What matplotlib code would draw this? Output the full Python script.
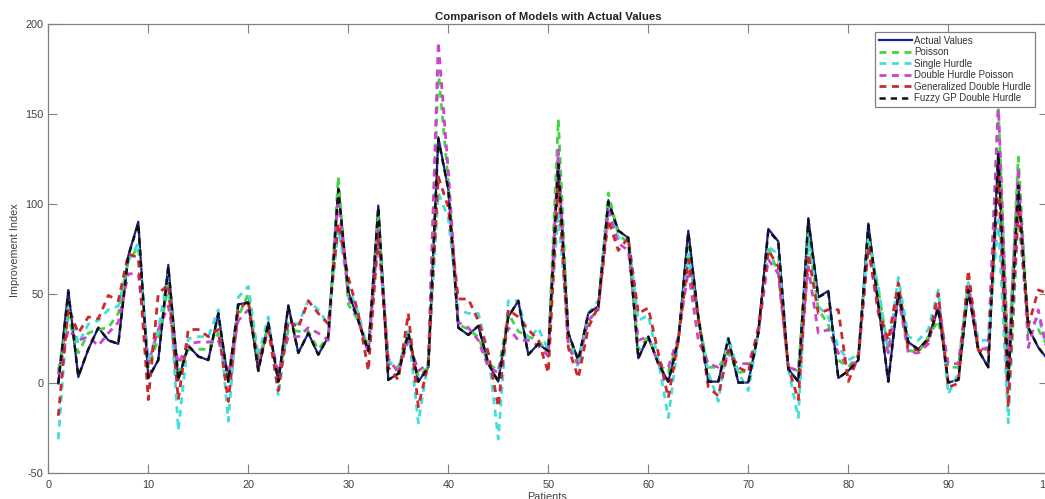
import matplotlib
matplotlib.use("Agg")
import matplotlib.pyplot as plt

plt.rcParams['font.family'] = ['Liberation Sans', 'DejaVu Sans']
plt.rcParams['axes.unicode_minus'] = False

patients = list(range(1, 101))

actual = [0, 52, 3.5, 19, 31, 24, 22, 71, 90, 3,
          13, 66, 2, 21, 15, 13, 39, 1, 44, 45,
          7, 34, 1, 43.5, 17, 28, 16, 26, 109, 51,
          35, 18, 99, 2, 5.5, 28, 1, 9, 137, 108,
          31, 27, 32, 11, 1, 37, 46, 16, 22, 18,
          123, 28, 13, 39, 43, 102, 85, 81, 14, 26,
          11, 1, 24, 85, 37, 1, 1, 25, 0.5, 0.5,
          28, 86, 79, 8, 1, 92, 48, 51.5, 3, 7,
          13, 89, 44, 1, 50, 23, 19, 25, 42, 0.5,
          2, 52, 18.5, 9, 129, 1, 111, 31, 20, 13]

poisson = [7, 37, 17, 28, 30, 31, 39, 68, 76, 9,
           25, 54, 6, 19, 19, 19, 28, 4, 37, 50,
           13, 31, 4, 30, 29, 29, 19, 26, 115, 44,
           35, 20, 93, 11, 9, 28, 4, 9, 174, 112,
           33, 30, 26, 11, 7, 39, 29, 26, 24, 17,
           147, 26, 13, 35, 41, 106, 83, 78, 18.5, 26,
           11, 6, 24, 76, 35, 9, 9, 17, 6, 7,
           28, 76, 61, 9, 7, 83, 41, 33, 13, 9,
           16, 81, 52, 18.5, 50, 18.5, 17, 26, 35, 9,
           9, 56, 20, 18.5, 154, 7, 126, 28, 30, 20]

single_hurdle = [-31, 46, 22, 33, 35, 41, 43, 68, 78, 13,
                 30, 62, -26, 25, 26, 26, 41, -21, 48, 54,
                 15, 37, -7, 34, 33, 46, 41, 33, 86, 54,
                 39, 18, 83, 13, 7, 31, -22, 13, 106, 92,
                 41, 39, 39, 17, -31, 46, 46, 24, 31, 18.5,
                 96, 24, 9, 39, 46, 98, 81, 81, 35, 38,
                 13, -19, 24, 72, 37, 6, -10, 26, 6, -4,
                 28, 76, 72, 8, -19, 81, 43, 37, 20, 13,
                 16, 80, 54, 17, 59, 26, 24, 30, 52, -6,
                 6, 56, 24, 24, 91, -22, 94, 30, 37, 18]

double_hurdle = [5, 30, 24, 26, 21, 28, 34, 61, 61, 11,
                 30, 43, 11, 22, 23, 23, 24, 5, 35, 41,
                 13, 30, 6, 26, 26, 31, 28, 24, 104, 48,
                 35, 17, 87, 14, 6, 24, 7, 11, 190, 118,
                 34, 31, 24, 9, 6, 31, 24, 24, 21, 15,
                 130, 20, 11, 35, 41, 96, 78, 74, 24, 26,
                 11, 9, 26, 63, 24, 11, 9, 15, 11, 11,
                 28, 69, 61, 9, 7, 65, 28, 30, 17, 9,
                 13, 76, 39, 17, 48, 17, 17, 22, 44, 11,
                 11, 54, 18.5, 20, 156, 11, 120, 20, 41, 15]

generalized = [-18, 42, 28, 37, 36, 49, 46, 72, 70, -9,
               50, 55, -9, 30, 30, 26, 30, -10, 41, 46,
               9, 30, -4, 35, 31, 46, 39, 33, 89, 59,
               39, 7, 83, 9, 2, 39, -13, 11, 115, 98,
               47, 47, 35, 17, -13, 41, 37, 30, 24, 6,
               112, 20, 3, 31, 43, 91, 74, 81, 39, 42,
               17, -8, 24, 69, 37, -2, -7, 18.5, 9, 6,
               31, 74, 65, 9, -9, 72, 39, 41, 41, 1,
               15, 76, 41, 24, 56, 20, 18.5, 24, 50, -2,
               0, 63, 18.5, 17, 115, -13, 98, 32, 52, 50]

fuzzy = [0, 51, 4, 19, 31, 24, 22, 71, 89, 3,
         13, 65, 2, 21, 15, 13, 39, 1, 44, 45,
         7, 34, 1, 43, 17, 28, 16, 26, 108, 51,
         35, 18, 98, 2, 5.5, 28, 1, 9, 136, 108,
         31, 27, 32, 11, 1, 37, 46, 16, 22, 18,
         122, 28, 13, 39, 43, 101, 85, 81, 14, 26,
         11, 1, 24, 84, 37, 1, 1, 25, 0.5, 0.5,
         28, 85, 79, 8, 1, 91, 48, 51, 3, 7,
         13, 88, 44, 1, 50, 23, 19, 25, 42, 0.5,
         2, 52, 18.5, 9, 128, 1, 110, 31, 20, 13]

series_names = ["Actual Values", "Poisson", "Single Hurdle", "Double Hurdle Poisson",
                "Generalized Double Hurdle", "Fuzzy GP Double Hurdle"]
x_ticks = list(range(0, 101, 10))
y_ticks = [-50, 0, 50, 100, 150, 200]

W, H = 1045, 499
fig = plt.figure(figsize=(W / 100, H / 100), dpi=100)
ax = fig.add_axes([48.3 / W, (H - 473.3) / H, 1000 / W, 449.3 / H])

dash = (0, (2.5, 2.0))
ax.plot(patients, actual, color='#1e1e8c', lw=1.6, ls='-', label=series_names[0])
ax.plot(patients, poisson, color='#44d444', lw=2.0, ls=dash, label=series_names[1])
ax.plot(patients, single_hurdle, color='#44dddd', lw=2.0, ls=dash, label=series_names[2])
ax.plot(patients, double_hurdle, color='#cc44cc', lw=2.0, ls=dash, label=series_names[3])
ax.plot(patients, generalized, color='#cc2a2a', lw=2.0, ls=dash, label=series_names[4])
ax.plot(patients, fuzzy, color='#111111', lw=1.8, ls=dash, label=series_names[5])

ax.set_xlim(0, 100)
ax.set_ylim(-50, 200)
ax.set_xticks(x_ticks)
ax.set_yticks(y_ticks)
for s in ax.spines.values():
    s.set_color('#808080')
    s.set_linewidth(0.9)
ax.tick_params(direction='in', length=6.5, width=0.8, color='#808080',
               top=True, right=True, labelsize=7.8, labelcolor='#404040')
ax.tick_params(axis='y', pad=3.6)
ax.tick_params(axis='x', pad=5)

ax.set_title("Comparison of Models with Actual Values", fontsize=8.2, fontweight='bold',
             color='#222222', pad=3)
fig.text(15 / W, (H - 250) / H, "Improvement Index", rotation=90, ha='center', va='center',
         fontsize=7.8, color='#404040')
fig.text(547 / W, (H - 492.5) / H, "Patients", ha='center', va='top', fontsize=7.8, color='#404040')

leg = ax.legend(loc='upper right', bbox_to_anchor=((1035 - 48.3) / 1000, (473.3 - 32) / 449.3),
                borderaxespad=0, fontsize=7.0, handlelength=3.4, handletextpad=0.25,
                labelspacing=0.15, borderpad=0.4, fancybox=False, framealpha=1,
                edgecolor='#808080')
leg.get_frame().set_linewidth(0.9)
for t in leg.get_texts():
    t.set_color('#333333')

fig.savefig("out.png", dpi=100)
